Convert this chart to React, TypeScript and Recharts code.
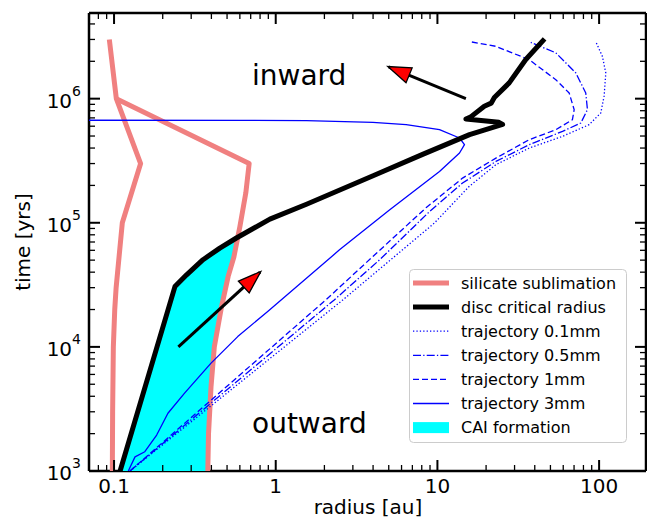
import { ComposedChart, Scatter, XAxis, YAxis } from "recharts";

type P = { r: number; t: number };

// radius [au], time [yrs]
const silicateInner: P[] = [
  { r: 0.0976, t: 1e3 },
  { r: 0.098, t: 3e3 },
  { r: 0.099, t: 1e4 },
  { r: 0.101, t: 2e4 },
  { r: 0.103, t: 3e4 },
  { r: 0.1125, t: 1e5 },
  { r: 0.146, t: 3e5 },
  { r: 0.1033, t: 1e6 },
  { r: 0.0935, t: 3e6 },
];

const silicateOuter: P[] = [
  { r: 0.38, t: 1e3 },
  { r: 0.384, t: 2e3 },
  { r: 0.398, t: 4.8e3 },
  { r: 0.417, t: 1e4 },
  { r: 0.462, t: 2.1e4 },
  { r: 0.508, t: 3.7e4 },
  { r: 0.551, t: 5.3e4 },
  { r: 0.6, t: 9.3e4 },
  { r: 0.653, t: 1.74e5 },
  { r: 0.685, t: 3e5 },
  { r: 0.1033, t: 1e6 },
];

const discCritical: P[] = [
  { r: 0.109, t: 1e3 },
  { r: 0.238, t: 3.06e4 },
  { r: 0.281, t: 3.81e4 },
  { r: 0.355, t: 5.04e4 },
  { r: 0.451, t: 6.25e4 },
  { r: 0.571, t: 7.54e4 },
  { r: 0.721, t: 8.95e4 },
  { r: 0.92, t: 1.07e5 },
  { r: 1.55, t: 1.41e5 },
  { r: 4.0, t: 2.39e5 },
  { r: 8.1, t: 3.56e5 },
  { r: 15.8, t: 5.13e5 },
  { r: 25.3, t: 6.2e5 },
  { r: 24, t: 6.45e5 },
  { r: 15, t: 6.85e5 },
  { r: 16, t: 7.1e5 },
  { r: 19.5, t: 8.7e5 },
  { r: 21.5, t: 9.2e5 },
  { r: 22.5, t: 1.02e6 },
  { r: 27.8, t: 1.34e6 },
  { r: 35.2, t: 2.07e6 },
  { r: 46, t: 3.03e6 },
];

const traj01: P[] = [
  { r: 0.1255, t: 1e3 },
  { r: 2.6, t: 2.39e4 },
  { r: 9.58, t: 9.95e4 },
  { r: 15.7, t: 1.96e5 },
  { r: 23.0, t: 2.94e5 },
  { r: 37.0, t: 4.0e5 },
  { r: 59.4, t: 4.97e5 },
  { r: 86.7, t: 6.17e5 },
  { r: 102.4, t: 7.67e5 },
  { r: 107.4, t: 1.05e6 },
  { r: 110, t: 1.61e6 },
  { r: 104.8, t: 2.19e6 },
  { r: 95.5, t: 2.87e6 },
];

const traj05: P[] = [
  { r: 0.1255, t: 1e3 },
  { r: 2.3, t: 2.39e4 },
  { r: 4.39, t: 5.03e4 },
  { r: 8.93, t: 1.23e5 },
  { r: 14.3, t: 2.09e5 },
  { r: 23.0, t: 3.12e5 },
  { r: 37.0, t: 4.26e5 },
  { r: 59.4, t: 5.45e5 },
  { r: 77.1, t: 6.37e5 },
  { r: 84.7, t: 8.16e5 },
  { r: 82.7, t: 1.11e6 },
  { r: 71.8, t: 1.61e6 },
  { r: 54, t: 2.34e6 },
  { r: 37.8, t: 2.84e6 },
];

const traj1: P[] = [
  { r: 0.1255, t: 1e3 },
  { r: 2.04, t: 2.39e4 },
  { r: 3.99, t: 5.35e4 },
  { r: 8.5, t: 1.32e5 },
  { r: 14.3, t: 2.29e5 },
  { r: 23.0, t: 3.32e5 },
  { r: 37.0, t: 4.67e5 },
  { r: 54.0, t: 5.62e5 },
  { r: 68.4, t: 6.77e5 },
  { r: 70.1, t: 8.16e5 },
  { r: 65.3, t: 1.11e6 },
  { r: 54.0, t: 1.42e6 },
  { r: 37.0, t: 2.06e6 },
  { r: 23.0, t: 2.64e6 },
  { r: 16.1, t: 2.87e6 },
];

const traj3: P[] = [
  { r: 0.1225, t: 1e3 },
  { r: 0.1348, t: 1.3e3 },
  { r: 0.155, t: 1.43e3 },
  { r: 0.1835, t: 1.95e3 },
  { r: 0.2154, t: 2.92e3 },
  { r: 0.273, t: 4.24e3 },
  { r: 0.398, t: 7.4e3 },
  { r: 0.582, t: 1.21e4 },
  { r: 0.892, t: 1.93e4 },
  { r: 2.48, t: 6.05e4 },
  { r: 5.05, t: 1.27e5 },
  { r: 10.3, t: 2.59e5 },
  { r: 13.7, t: 3.65e5 },
  { r: 14.7, t: 4.26e5 },
  { r: 13.7, t: 4.82e5 },
  { r: 10.3, t: 5.62e5 },
  { r: 6.41, t: 6.17e5 },
  { r: 3.99, t: 6.44e5 },
  { r: 1.55, t: 6.65e5 },
  { r: 0.6, t: 6.69e5 },
  { r: 0.05, t: 6.7e5 },
];

// where the disc critical radius meets the silicate outer edge
const caiTop: P[] = [{ r: 0.58, t: 7.7e4 }];

const arrowInward: P[] = [
  { r: 15, t: 1e6 },
  { r: 5, t: 1.8e6 },
];
const arrowOutward: P[] = [
  { r: 0.25, t: 1e4 },
  { r: 0.8, t: 4e4 },
];

const legendNames = [
  "silicate sublimation",
  "disc critical radius",
  "trajectory 0.1mm",
  "trajectory 0.5mm",
  "trajectory 1mm",
  "trajectory 3mm",
  "CAI formation",
];

const xTickLabels = ["0.1", "1", "10", "100"];
const xMajor = [0.1, 1, 10, 100];
const yTickExps = ["3", "4", "5", "6"];
const yMajor = [1e3, 1e4, 1e5, 1e6];

const X_DOMAIN: [number, number] = [0.07, 195];
const Y_DOMAIN: [number, number] = [1e3, 4.9e6];

const xTicks: number[] = [];
[0.01, 0.1, 1, 10, 100].forEach((d) => {
  for (let k = 1; k < 10; k++) {
    const v = k === 1 ? d : d * k;
    if (v >= X_DOMAIN[0] && v <= X_DOMAIN[1]) xTicks.push(v);
  }
});
const yTicks: number[] = [];
[1e3, 1e4, 1e5, 1e6].forEach((d) => {
  for (let k = 1; k < 10; k++) {
    const v = d * k;
    if (v >= Y_DOMAIN[0] && v <= Y_DOMAIN[1]) yTicks.push(v);
  }
});

// CAI region: disc critical radius up to the crossing, then back down the silicate edge
const caiFill: P[] = [
  ...discCritical.filter((p) => p.t < caiTop[0].t),
  ...caiTop,
  ...silicateOuter.filter((p) => p.t < caiTop[0].t).reverse(),
];

const FONT = '"DejaVu Sans", sans-serif';
const PINK = "#f08080";
const BLUE = "#0000ff";
const CYAN = "#00ffff";

const styles = {
  silicate: { stroke: PINK, strokeWidth: 5, fill: "none" },
  disc: { stroke: "#000", strokeWidth: 5, fill: "none" },
  t01: { stroke: BLUE, strokeWidth: 1.3, fill: "none", strokeDasharray: "1.3 2.1" },
  t05: { stroke: BLUE, strokeWidth: 1.3, fill: "none", strokeDasharray: "8 2.2 1.3 2.2" },
  t1: { stroke: BLUE, strokeWidth: 1.3, fill: "none", strokeDasharray: "6 3" },
  t3: { stroke: BLUE, strokeWidth: 1.3, fill: "none" },
  cai: { stroke: "none", fill: CYAN },
  arrow: { stroke: "#000", strokeWidth: 3, fill: "none", markerEnd: "url(#arrowHead)" },
};

const toPath = (pts: { x: number; y: number }[], close = false) =>
  pts.map((p, i) => `${i ? "L" : "M"}${p.x},${p.y}`).join(" ") + (close ? " Z" : "");

const lineOf = (style: any, close = false) => (props: any) =>
  <path d={toPath(props.points, close)} strokeLinejoin="round" {...style} />;

const noDot = () => <g />;

function BottomTick({ x, y, payload }: any) {
  const i = xMajor.indexOf(payload.value);
  const major = i >= 0;
  return (
    <g>
      <line x1={x} x2={x} y1={y} y2={y - (major ? 11 : 6)} stroke="#000" strokeWidth={major ? 2 : 1.3} />
      {major && (
        <text x={x} y={y + 22} textAnchor="middle" fontSize={20} fontFamily={FONT} fill="#000">
          {xTickLabels[i]}
        </text>
      )}
    </g>
  );
}

function TopTick({ x, y, payload }: any) {
  const major = xMajor.includes(payload.value);
  return <line x1={x} x2={x} y1={y} y2={y + (major ? 11 : 6)} stroke="#000" strokeWidth={major ? 2 : 1.3} />;
}

function LeftTick({ x, y, payload }: any) {
  const i = yMajor.indexOf(payload.value);
  const major = i >= 0;
  return (
    <g>
      <line x1={x} x2={x + (major ? 11 : 6)} y1={y} y2={y} stroke="#000" strokeWidth={major ? 2 : 1.3} />
      {major && (
        <text x={x - 8} y={y + 9} textAnchor="end" fontFamily={FONT} fill="#000">
          <tspan fontSize={20}>10</tspan>
          <tspan fontSize={14} dy={-12}>{yTickExps[i]}</tspan>
        </text>
      )}
    </g>
  );
}

function RightTick({ x, y, payload }: any) {
  const major = yMajor.includes(payload.value);
  return <line x1={x} x2={x - (major ? 11 : 6)} y1={y} y2={y} stroke="#000" strokeWidth={major ? 2 : 1.3} />;
}

const axisLine = { stroke: "#000", strokeWidth: 2.5 };

function Legend() {
  const x0 = 409.5;
  const y0 = 269.5;
  const rowY = (i: number) => 283 + i * 24.1;
  const swatch = (i: number) => {
    const y = rowY(i);
    const s = [styles.silicate, styles.disc, styles.t01, styles.t05, styles.t1, styles.t3][i];
    if (i === 6) return <rect x={413} y={y - 5.5} width={36} height={11} fill={CYAN} />;
    return <line x1={413} x2={449} y1={y} y2={y} {...s} />;
  };
  return (
    <g>
      <rect x={x0} y={y0} width={217} height={173} rx={4} fill="#fff" fillOpacity={0.8} stroke="#cccccc" strokeWidth={1} />
      {legendNames.map((n, i) => (
        <g key={n}>
          {swatch(i)}
          <text x={461} y={rowY(i) + 5.8} fontSize={16} fontFamily={FONT} fill="#000">
            {n}
          </text>
        </g>
      ))}
    </g>
  );
}

const axisCommon = {
  type: "number" as const,
  scale: "log" as const,
  allowDataOverflow: true,
  interval: 0 as const,
  tickSize: 0,
  tickMargin: 0,
  tickLine: false,
  axisLine,
};

export default function App() {
  return (
    <div style={{ position: "absolute", left: 0, top: 0, width: 647, height: 527, background: "#fff" }}>
      <ComposedChart width={647} height={527} margin={{ top: 12, right: 0, bottom: 55, left: 88 }}>
        <XAxis
          {...axisCommon}
          dataKey="r"
          domain={X_DOMAIN}
          ticks={xTicks}
          height={1}
          tick={(p: any) => <BottomTick {...p} />}
        />
        <XAxis
          {...axisCommon}
          xAxisId="top"
          orientation="top"
          dataKey="r"
          domain={X_DOMAIN}
          ticks={xTicks}
          height={1}
          tick={(p: any) => <TopTick {...p} />}
        />
        <YAxis
          {...axisCommon}
          dataKey="t"
          domain={Y_DOMAIN}
          ticks={yTicks}
          width={1}
          tick={(p: any) => <LeftTick {...p} />}
        />
        <YAxis
          {...axisCommon}
          yAxisId="right"
          orientation="right"
          dataKey="t"
          domain={Y_DOMAIN}
          ticks={yTicks}
          width={1}
          tick={(p: any) => <RightTick {...p} />}
        />
        <Scatter data={caiFill} line={lineOf(styles.cai, true)} shape={noDot} isAnimationActive={false} />
        <Scatter data={silicateInner} line={lineOf(styles.silicate)} shape={noDot} isAnimationActive={false} />
        <Scatter data={silicateOuter} line={lineOf(styles.silicate)} shape={noDot} isAnimationActive={false} />
        <Scatter data={traj01} line={lineOf(styles.t01)} shape={noDot} isAnimationActive={false} />
        <Scatter data={traj05} line={lineOf(styles.t05)} shape={noDot} isAnimationActive={false} />
        <Scatter data={traj1} line={lineOf(styles.t1)} shape={noDot} isAnimationActive={false} />
        <Scatter data={traj3} line={lineOf(styles.t3)} shape={noDot} isAnimationActive={false} />
        <Scatter data={discCritical} line={lineOf(styles.disc)} shape={noDot} isAnimationActive={false} />
        <Scatter data={arrowInward} line={lineOf(styles.arrow)} shape={noDot} isAnimationActive={false} />
        <Scatter data={arrowOutward} line={lineOf(styles.arrow)} shape={noDot} isAnimationActive={false} />
      </ComposedChart>
      <svg
        width={647}
        height={527}
        style={{ position: "absolute", left: 0, top: 0, pointerEvents: "none" }}
      >
        <defs>
          <marker
            id="arrowHead"
            viewBox="-3 -11 28 22"
            refX={22}
            refY={0}
            markerWidth={28}
            markerHeight={22}
            markerUnits="userSpaceOnUse"
            orient="auto"
          >
            <path d="M0,-8 L23,0 L0,8 Z" fill="#ff0000" stroke="#000" strokeWidth={1.3} />
          </marker>
        </defs>
        <text x={252} y={85} fontSize={28} fontFamily={FONT} fill="#000">
          inward
        </text>
        <text x={252} y={433} fontSize={28} fontFamily={FONT} fill="#000">
          outward
        </text>
        <text x={368} y={514} textAnchor="middle" fontSize={20} fontFamily={FONT} fill="#000">
          radius [au]
        </text>
        <text
          x={30}
          y={242}
          textAnchor="middle"
          fontSize={20}
          fontFamily={FONT}
          fill="#000"
          transform="rotate(-90 30 242)"
        >
          time [yrs]
        </text>
        <Legend />
      </svg>
    </div>
  );
}
